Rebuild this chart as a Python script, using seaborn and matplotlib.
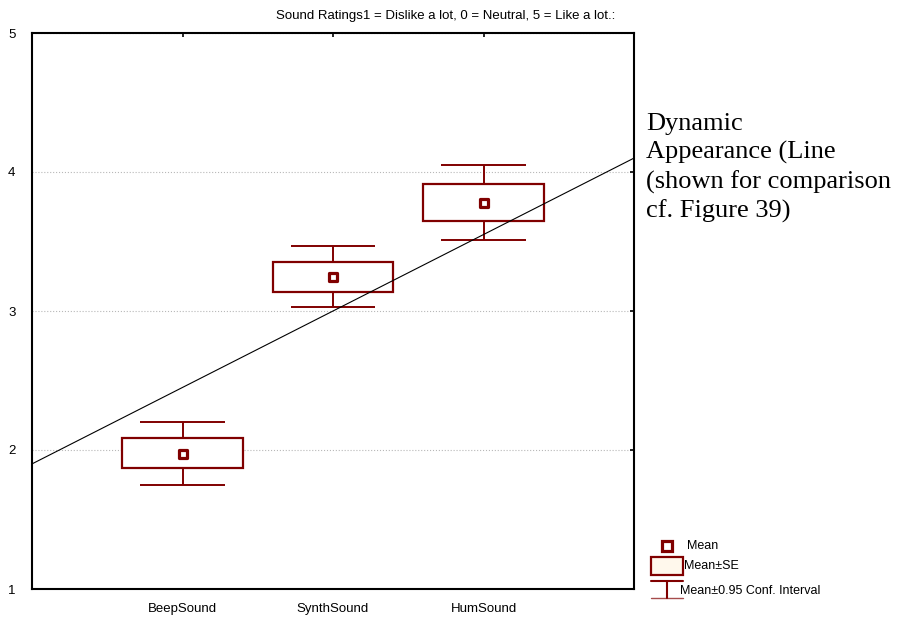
import matplotlib
matplotlib.use("Agg")
import matplotlib.pyplot as plt
from matplotlib.patches import Rectangle
import pandas as pd
import seaborn as sns

# values
categories = ["BeepSound", "SynthSound", "HumSound"]
means = [1.97, 3.245, 3.775]
se_low = [1.87, 3.137, 3.647]
se_high = [2.086, 3.353, 3.914]
ci_low = [1.748, 3.029, 3.51]
ci_high = [2.20, 3.468, 4.05]

# comparison line (Dynamic Appearance)
line_x = [-1, 3]
line_y = [1.90, 4.10]

title = "Sound Ratings1 = Dislike a lot, 0 = Neutral, 5 = Like a lot.:"
note = "Dynamic\nAppearance (Line\n(shown for comparison\ncf. Figure 39)"

red = "#800000"

sns.set_style("white")
plt.rcParams["font.family"] = ["Liberation Sans", "DejaVu Sans"]
plt.rcParams["text.color"] = "black"
plt.rcParams["xtick.color"] = "black"
plt.rcParams["ytick.color"] = "black"

df = pd.DataFrame({"pos": range(len(categories)), "mean": means})

fig = plt.figure(figsize=(8.97, 6.21), dpi=100)
ax = fig.add_axes([32 / 897, 1 - 589 / 621, (634 - 32) / 897, (589 - 33) / 621])

# grid
ax.yaxis.grid(True, linestyle=":", color="#b8b8b8", linewidth=0.8)
ax.set_axisbelow(True)

# boxes and whiskers
for i in range(len(categories)):
    ax.add_patch(Rectangle((i - 0.4, se_low[i]), 0.8, se_high[i] - se_low[i],
                           facecolor="white", edgecolor=red, linewidth=1.6, zorder=2))
    ax.vlines(i, se_high[i], ci_high[i], color=red, linewidth=1.4, zorder=2)
    ax.vlines(i, ci_low[i], se_low[i], color=red, linewidth=1.4, zorder=2)
    ax.hlines([ci_low[i], ci_high[i]], i - 0.28, i + 0.28, color=red, linewidth=1.4, zorder=2)

sns.scatterplot(data=df, x="pos", y="mean", marker="s", s=26, color="white",
                edgecolor=red, linewidth=2.3, zorder=3, ax=ax, legend=False)

sns.lineplot(x=line_x, y=line_y, color="black", linewidth=0.8, zorder=4, ax=ax)

ax.set_xlim(-1, 3)
ax.set_ylim(1, 5)
ax.set_xticks(range(len(categories)))
ax.set_xticklabels(categories)
ax.set_yticks([1, 2, 3, 4, 5])
ax.set_xlabel("")
ax.set_ylabel("")
ax.tick_params(direction="in", length=3, width=1.2, color="black",
               top=True, right=True, labelsize=9.5, labelcolor="black")
ax.tick_params(axis="x", pad=10)
ax.tick_params(axis="y", pad=12)
for s in ax.spines.values():
    s.set_visible(True)
    s.set_color("black")
    s.set_linewidth(1.5)

fig.text(0.497, 0.975, title, ha="center", va="center", fontsize=9.5, color="black")
fig.text(646 / 897, 1 - 113 / 621, note, ha="left", va="top", fontsize=19, color="black",
         family=["Liberation Serif", "DejaVu Serif"], linespacing=1.34)

# legend drawn in pixel space
lax = fig.add_axes([0, 0, 1, 1])
lax.set_xlim(0, 897)
lax.set_ylim(621, 0)
lax.axis("off")
lax.patch.set_alpha(0)
lax.plot([667], [546], marker="s", markersize=7.2, markerfacecolor="white",
         markeredgecolor=red, markeredgewidth=2.3)
lax.text(687, 546, "Mean", va="center", fontsize=9, color="black")
lax.add_patch(Rectangle((651, 557), 32, 18, facecolor="#fff8ec", edgecolor=red, linewidth=1.6))
lax.text(684, 566, "Mean±SE", va="center", fontsize=9, color="black")
lax.plot([651, 683], [581, 581], color=red, linewidth=1.5)
lax.plot([667, 667], [581, 598], color=red, linewidth=1.5)
lax.plot([651, 683], [598, 598], color=red, linewidth=1.0, alpha=0.7)
lax.text(680, 591, "Mean±0.95 Conf. Interval", va="center", fontsize=9, color="black")

fig.savefig("out.png", dpi=100)
